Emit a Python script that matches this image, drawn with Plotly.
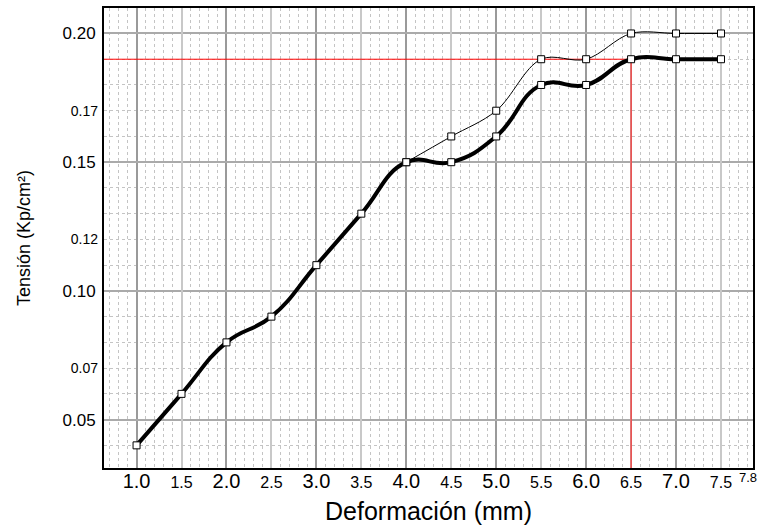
import plotly.graph_objects as go

# ---- data ----
x_thick = [1.0, 1.5, 2.0, 2.5, 3.0, 3.5, 4.0, 4.5, 5.0, 5.5, 6.0, 6.5, 7.0, 7.5]
y_thick = [0.04, 0.06, 0.08, 0.09, 0.11, 0.13, 0.15, 0.15, 0.16, 0.18, 0.18, 0.19, 0.19, 0.19]
x_thin = [4.0, 4.5, 5.0, 5.5, 6.0, 6.5, 7.0, 7.5]
y_thin = [0.15, 0.16, 0.17, 0.19, 0.19, 0.20, 0.20, 0.20]

ref_x = 6.5
ref_y = 0.19

x_major_vals = [1, 2, 3, 4, 5, 6, 7]
x_major_text = ["1.0", "2.0", "3.0", "4.0", "5.0", "6.0", "7.0"]
x_half_vals = [1.5, 2.5, 3.5, 4.5, 5.5, 6.5, 7.5]
x_half_text = ["1.5", "2.5", "3.5", "4.5", "5.5", "6.5", "7.5"]
x_end_vals = [7.8]
x_end_text = ["7.8"]
y_major_vals = [0.05, 0.10, 0.15, 0.20]
y_major_text = ["0.05", "0.10", "0.15", "0.20"]
y_minor_vals = [0.07, 0.12, 0.17]
y_minor_text = ["0.07", "0.12", "0.17"]

x_range = [0.638, 7.856]
y_range = [0.0312, 0.2099]

FONT = "Liberation Sans, Arial, sans-serif"

fig = go.Figure()

# red reference lines (drawn first, under the curves)
fig.add_trace(go.Scatter(
    x=[x_range[0], ref_x, ref_x], y=[ref_y, ref_y, y_range[0]], mode="lines",
    line=dict(color="#ff0000", width=1), showlegend=False, hoverinfo="skip"))

fig.add_trace(go.Scatter(
    x=x_thick, y=y_thick, mode="lines+markers",
    line=dict(color="black", width=4, shape="spline", smoothing=1.3),
    marker=dict(symbol="square", size=7, color="white", line=dict(color="black", width=1)),
    showlegend=False, cliponaxis=False))
fig.add_trace(go.Scatter(
    x=x_thin, y=y_thin, mode="lines+markers",
    line=dict(color="black", width=1, shape="spline", smoothing=1.0),
    marker=dict(symbol="square", size=7, color="white", line=dict(color="black", width=1)),
    showlegend=False, cliponaxis=False))

minor_grid = dict(showgrid=True, gridcolor="#c4c4c4", gridwidth=1, griddash="3px,3px", ticks="")

fig.update_layout(
    width=763, height=527,
    margin=dict(l=104, r=6, t=7, b=59),
    paper_bgcolor="white", plot_bgcolor="white",
    font=dict(family=FONT, color="black"),
    xaxis=dict(
        range=x_range, tickmode="array", tickvals=x_major_vals, ticktext=x_major_text,
        tickfont=dict(size=20), showgrid=True, gridcolor="#9a9a9a", gridwidth=2,
        minor=dict(dtick=0.1, tick0=0, **minor_grid),
        showline=True, linecolor="black", linewidth=2, mirror=True,
        zeroline=False, ticks="", ticklabelstandoff=-6,
        title=dict(text="Deformación (mm)", font=dict(size=25), standoff=11)),
    xaxis2=dict(
        overlaying="x", anchor="y", side="bottom", range=x_range, tickmode="array",
        tickvals=x_half_vals, ticktext=x_half_text, tickfont=dict(size=16),
        showgrid=True, gridcolor="#c8c8c8", gridwidth=2, zeroline=False, ticks="",
        ticklabelstandoff=3, showline=False),
    xaxis3=dict(
        overlaying="x", anchor="y", side="bottom", range=x_range, tickmode="array",
        tickvals=x_end_vals, ticktext=x_end_text, tickfont=dict(size=13),
        showgrid=False, zeroline=False, ticks="", ticklabelstandoff=0, showline=False),
    yaxis=dict(
        range=y_range, tickmode="array", tickvals=y_major_vals, ticktext=y_major_text,
        tickfont=dict(size=17), showgrid=True, gridcolor="#aaaaaa", gridwidth=2,
        minor=dict(dtick=0.01, tick0=0, **minor_grid),
        showline=True, linecolor="black", linewidth=2, mirror=True,
        zeroline=False, ticks="", ticklabelstandoff=3,
        title=dict(text="Tensión (Kp/cm²)", font=dict(size=18), standoff=27)),
    yaxis2=dict(
        overlaying="y", anchor="x", side="left", range=y_range, tickmode="array",
        tickvals=y_minor_vals, ticktext=y_minor_text, tickfont=dict(size=14),
        showgrid=False, zeroline=False, ticks="", ticklabelstandoff=5, showline=False),
)

# invisible traces to activate the overlay axes
fig.add_trace(go.Scatter(x=[], y=[], xaxis="x2", yaxis="y2", showlegend=False, hoverinfo="skip"))
fig.add_trace(go.Scatter(x=[], y=[], xaxis="x3", yaxis="y", showlegend=False, hoverinfo="skip"))

fig.write_html("out.html")
